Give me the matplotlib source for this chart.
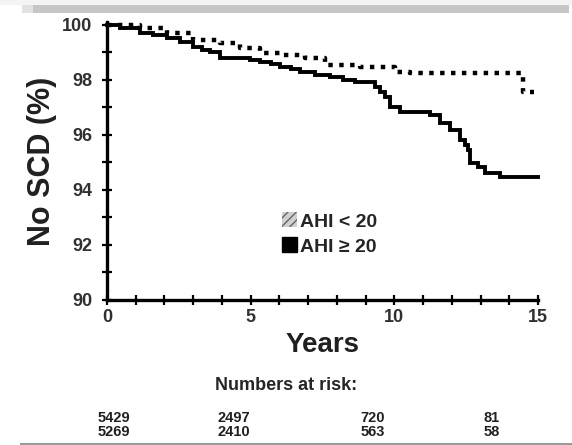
import numpy as np
import matplotlib
matplotlib.use("Agg")
import matplotlib.pyplot as plt
from matplotlib.patches import Patch, Rectangle

plt.rcParams['font.family'] = ['Liberation Sans', 'DejaVu Sans']
plt.rcParams['font.weight'] = 'bold'
plt.rcParams['hatch.linewidth'] = 1.0

# Kaplan-Meier steps, AHI >= 20
years_hi = [0, 0.45, 1.15, 1.6, 2.09, 2.54, 2.99, 3.3, 3.59, 3.93, 4.98, 5.33, 5.7, 6.02,
            6.4, 6.72, 7.24, 7.76, 8.2, 8.63, 9.33, 9.5, 9.68, 9.85, 10.2, 11.24, 11.59,
            11.94, 12.29, 12.45, 12.57, 12.63, 12.91, 13.16, 13.68, 15.0]
surv_hi = [100, 99.9, 99.7, 99.62, 99.53, 99.38, 99.2, 99.1, 99.02, 98.8, 98.72, 98.65,
           98.56, 98.47, 98.38, 98.29, 98.18, 98.1, 98.0, 97.92, 97.74, 97.55, 97.38, 97.0,
           96.83, 96.72, 96.43, 96.17, 95.81, 95.62, 95.45, 94.97, 94.83, 94.61, 94.46, 94.46]

# Kaplan-Meier steps, AHI < 20
years_lo = [0, 1.15, 2.09, 2.99, 3.93, 4.63, 5.33, 6.02, 6.89, 7.59, 8.8, 10.02, 10.55,
            14.48, 14.85]
surv_lo = [100, 99.9, 99.7, 99.45, 99.34, 99.16, 98.98, 98.9, 98.8, 98.54, 98.47, 98.29,
           98.25, 97.56, 97.56]

risk_lo = ["5429", "2497", "720", "81"]
risk_hi = ["5269", "2410", "563", "58"]
risk_x = [114, 234, 373, 492]  # column centres, px

W, H = 572, 445
fig = plt.figure(figsize=(W / 100, H / 100), dpi=100)
fig.patch.set_facecolor('white')

# page strip and grey rule along the top, thin rule at the bottom
fig.patches.append(Rectangle((0, 1 - 5 / H), 1, 5 / H, transform=fig.transFigure,
                             facecolor='#f4f4f4', edgecolor='none'))
fig.patches.append(Rectangle((22 / W, 1 - 13 / H), 11 / W, 8 / H, transform=fig.transFigure,
                             facecolor='#e2e2e2', edgecolor='none'))
fig.patches.append(Rectangle((33 / W, 1 - 13 / H), 536 / W, 8 / H, transform=fig.transFigure,
                             facecolor='#c6c6c6', edgecolor='none'))
fig.patches.append(Rectangle((20 / W, 0), 552 / W, 2 / H, transform=fig.transFigure,
                             facecolor='#9a9a9a', edgecolor='none'))

ax = fig.add_axes([107 / W, 145 / H, 431 / W, 278 / H])
ax.step(years_hi, surv_hi, where='post', color='black', lw=2.8, clip_on=False,
        solid_joinstyle='miter')
ax.step(years_lo, surv_lo, where='post', color='black', lw=3.2, clip_on=False,
        linestyle=(0, (1, 1.45)))

ax.set_xlim(0, 15)
ax.set_ylim(90, 100.1)
for s in ['top', 'right']:
    ax.spines[s].set_visible(False)
for s in ['left', 'bottom']:
    ax.spines[s].set_linewidth(2.4)
    ax.spines[s].set_color('black')

ax.set_xticks([0, 5, 10, 15])
ax.set_xticks(np.arange(0, 16, 1), minor=True)
ax.set_yticks([90, 92, 94, 96, 98, 100])
ax.set_yticks(np.arange(90, 101, 1), minor=True)
ax.tick_params(which='both', direction='inout', length=7, width=1.6, color='black')
ax.tick_params(axis='both', labelsize=13, labelcolor='#303030')
ax.tick_params(axis='y', pad=7)
ax.tick_params(axis='x', pad=3)
for lab in ax.get_xticklabels() + ax.get_yticklabels():
    lab.set_fontweight('bold')

ax.set_ylabel('No SCD (%)', fontsize=22, fontweight='bold', color='#202020', labelpad=4)
ax.set_xlabel('Years', fontsize=20, fontweight='bold', color='#202020', labelpad=4)

handles = [Patch(facecolor='#d0d0d0', edgecolor='#666666', hatch='////', lw=0),
           Patch(facecolor='black', edgecolor='black')]
leg = ax.legend(handles, ['AHI < 20', 'AHI \u2265 20'], loc='center left',
                bbox_to_anchor=((272 - 107) / 431, (300 - 234) / 278),
                frameon=False, fontsize=14, handlelength=0.8, handleheight=0.8,
                handletextpad=0.15, labelspacing=0.35, borderpad=0)
for t in leg.get_texts():
    t.set_color('#252525')
    t.set_fontweight('bold')

fig.text(286 / W, 1 - 385 / H, 'Numbers at risk:', ha='center', va='center',
         fontsize=13, fontweight='bold', color='#252525')
for x, a, b in zip(risk_x, risk_lo, risk_hi):
    fig.text(x / W, 1 - 418 / H, a, ha='center', va='center', fontsize=10.5,
             fontweight='bold', color='#202020')
    fig.text(x / W, 1 - 432 / H, b, ha='center', va='center', fontsize=10.5,
             fontweight='bold', color='#202020')

fig.savefig('out.png', dpi=100)
